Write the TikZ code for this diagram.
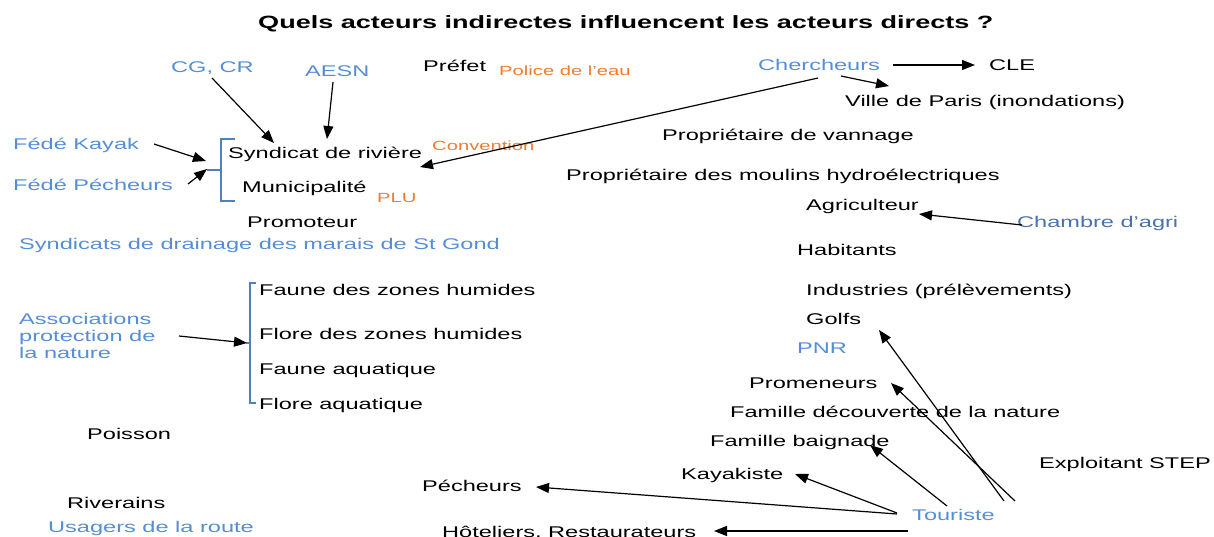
\documentclass[tikz,border=0pt]{standalone}
\usepackage{fontspec}
\setmainfont{Liberation Sans}[FakeStretch=1.52]
\usetikzlibrary{arrows.meta,calc}
\definecolor{lblue}{HTML}{558ED5}
\definecolor{dblue}{HTML}{4A72AE}
\definecolor{orng}{HTML}{ED7D31}
\definecolor{brk}{HTML}{4F81BD}
\begin{document}
\begin{tikzpicture}[x=1pt,y=-1pt,
  txt/.style={inner sep=0pt, anchor=base west, font=\fontsize{15.5}{17}\selectfont},
  bluetxt/.style={txt, text=lblue},
  dbluetxt/.style={txt, text=dblue},
  orangetxt/.style={inner sep=0pt, anchor=base west, font=\fontsize{13.3}{16}\selectfont, text=orng},
  titletxt/.style={inner sep=0pt, anchor=base west, font=\fontsize{17.8}{20}\selectfont\bfseries},
  arr/.style={-{Triangle[length=13pt,width=10pt]}, line width=1.2pt},
  brace/.style={draw=brk, line width=1.2pt}]
\useasboundingbox (0,0) rectangle (1214,536);
\node[titletxt] (title) at (258,28.5) {Quels acteurs indirectes influencent les acteurs directs ?};
\node[bluetxt] (cgcr) at (171,72) {CG, CR};
\node[bluetxt] (aesn) at (305,76.5) {AESN};
\node[txt] (prefet) at (423,71) {Préfet};
\node[orangetxt] (police) at (499,75) {Police de l’eau};
\node[bluetxt] (cherch) at (758,70.5) {Chercheurs};
\node[txt] (cle) at (989,70.5) {CLE};
\node[txt] (ville) at (845,106) {Ville de Paris (inondations)};
\node[txt] (vannage) at (662,140) {Propriétaire de vannage};
\node[bluetxt] (fkayak) at (13,149.5) {Fédé Kayak};
\node[txt] (syndic) at (228,158.5) {Syndicat de rivière};
\node[orangetxt] (conv) at (432,150) {Convention};
\node[txt] (moulins) at (566,180.5) {Propriétaire des moulins hydroélectriques};
\node[bluetxt] (fpech) at (13,190) {Fédé Pécheurs};
\node[txt] (munic) at (242,192.5) {Municipalité};
\node[orangetxt] (plu) at (377,202) {PLU};
\node[txt] (agri) at (806,210) {Agriculteur};
\node[txt] (promot) at (247,227) {Promoteur};
\node[dbluetxt] (chambre) at (1017,227.5) {Chambre d’agri};
\node[bluetxt] (drain) at (19,249.5) {Syndicats de drainage des marais de St Gond};
\node[txt] (habit) at (797,255.5) {Habitants};
\node[txt] (fzh) at (259,295.5) {Faune des zones humides};
\node[txt] (indus) at (806,295.5) {Industries (prélèvements)};
\node[bluetxt, anchor=north west, align=left] (assoc) at (19,313.4) {Associations\\protection de\\la nature};
\node[txt] (golfs) at (806,324.5) {Golfs};
\node[txt] (flzh) at (259,339.5) {Flore des zones humides};
\node[bluetxt] (pnr) at (797,353.5) {PNR};
\node[txt] (faq) at (259,374.5) {Faune aquatique};
\node[txt] (promen) at (749,388.5) {Promeneurs};
\node[txt] (flaq) at (259,409.5) {Flore aquatique};
\node[txt] (famdec) at (730,417.5) {Famille découverte de la nature};
\node[txt] (poisson) at (87,439.5) {Poisson};
\node[txt] (fambaig) at (710,446.5) {Famille baignade};
\node[txt] (stepx) at (1039,468.5) {Exploitant STEP};
\node[txt] (kayak) at (681,479.5) {Kayakiste};
\node[txt] (pech) at (422,491.5) {Pécheurs};
\node[txt] (river) at (67,508.5) {Riverains};
\node[bluetxt] (tour) at (912,520.5) {Touriste};
\node[bluetxt] (usagers) at (48,532) {Usagers de la route};
\node[txt] (hotel) at (442,537) {Hôteliers, Restaurateurs};
% brackets
\draw[brace] (235,139) -- (221,139) -- (221,201) -- (235,201);
\draw[brace] (221,170) -- (207,170);
\coordinate (b1) at (207,169);
\draw[brace] (256,283) -- (250,283) -- (250,403) -- (256,403);
\draw[brace] (250,343) -- (246,343);
\coordinate (b2) at (247,343);
% arrows
\draw[arr] ($(cgcr.base west)+(41,6)$) -- ($(syndic.base west)+(46,-15.5)$);
\draw[arr] ($(aesn.base west)+(28,5.5)$) -- ($(syndic.base west)+(99,-19.5)$);
\draw[arr] ($(cherch.base west)+(60,7.5)$) -- ($(syndic.base west)+(192,8.5)$);
\draw[arr] ($(cherch.base west)+(135,-5.5)$) -- ($(cle.base west)+(-14,-5.5)$);
\draw[arr] ($(cherch.base west)+(83,5.5)$) -- ($(ville.base west)+(44,-20)$);
\draw[arr] ($(chambre.base west)+(5,-2.5)$) -- ($(agri.base west)+(113,4)$);
\draw[arr] ($(fkayak.base west)+(141,-5.5)$) -- ($(b1)+(-1,-8)$);
\draw[arr] ($(fpech.base west)+(175,-6)$) -- (b1);
\draw[arr] ($(assoc.north west)+(160,22.6)$) -- (b2);
\draw[arr] ($(tour.base west)+(92,-19.5)$) -- ($(golfs.base west)+(73,5.5)$);
\draw[arr] ($(tour.base west)+(103,-19.5)$) -- ($(promen.base west)+(142,-5.5)$);
\draw[arr] ($(tour.base west)+(35,-14.5)$) -- ($(fambaig.base west)+(160,-1.5)$);
\draw[arr] ($(tour.base west)+(-15,-7.5)$) -- ($(kayak.base west)+(114,-5.5)$);
\draw[arr] ($(tour.base west)+(-15,-6.5)$) -- ($(pech.base west)+(114,-4.5)$);
\draw[arr] ($(tour.base west)+(-4,10.5)$) -- ($(hotel.base west)+(272,-6)$);
\end{tikzpicture}
\end{document}
